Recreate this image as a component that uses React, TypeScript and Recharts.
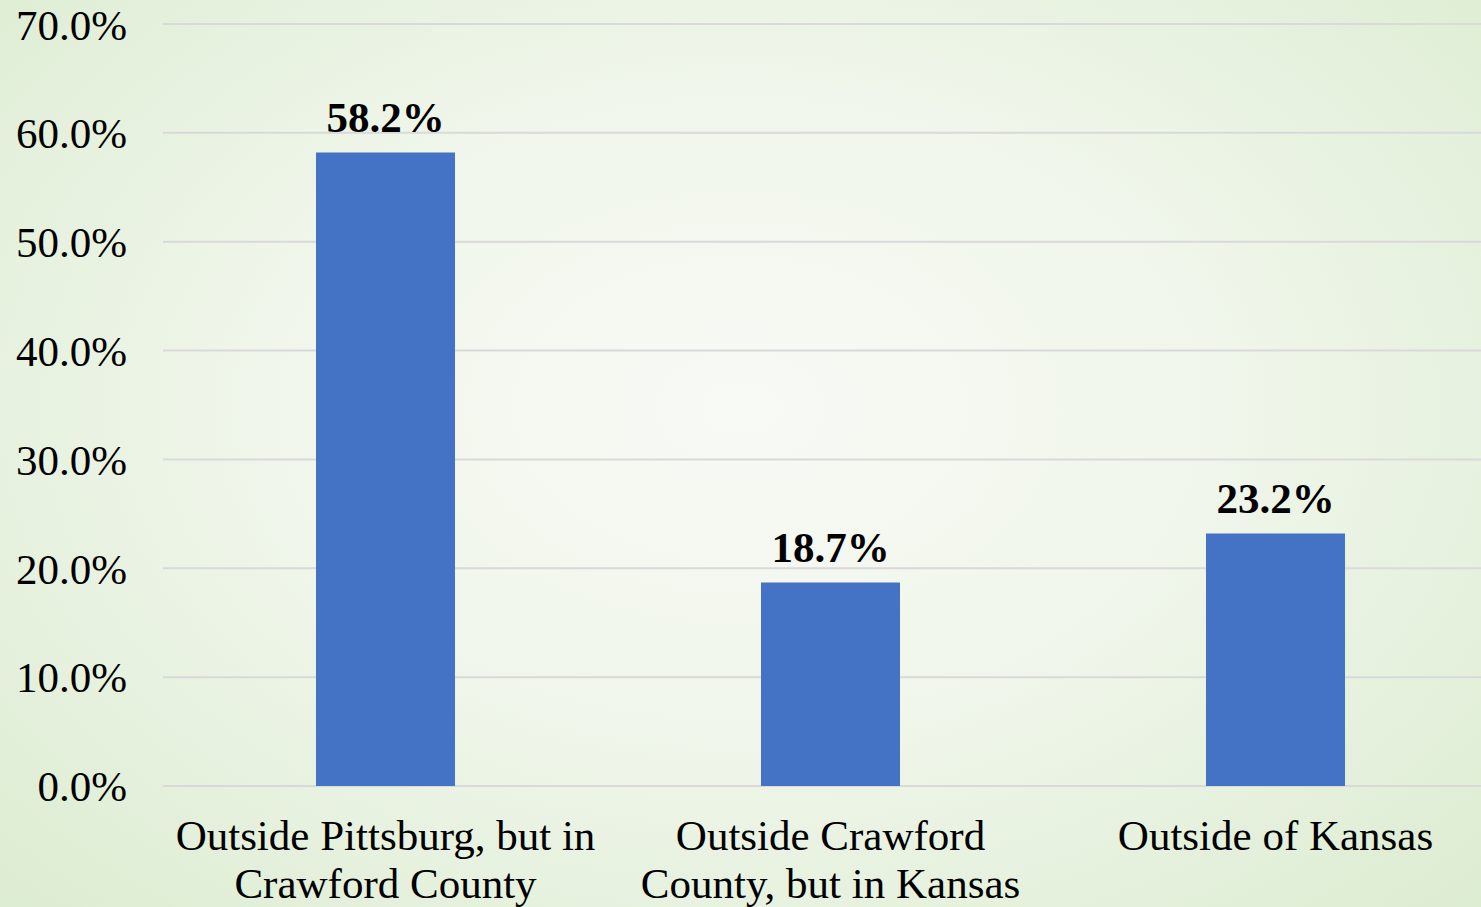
import React from 'react';
import { BarChart, Bar, XAxis, YAxis, CartesianGrid, LabelList } from 'recharts';

const categories: string[] = [
  'Outside Pittsburg, but in\nCrawford County',
  'Outside Crawford\nCounty, but in Kansas',
  'Outside of Kansas',
];
const shares: number[] = [0.582, 0.187, 0.232];
const yTicks: number[] = [0, 0.1, 0.2, 0.3, 0.4, 0.5, 0.6, 0.7];

const data = categories.map((name, i) => ({ name, value: shares[i] }));

const FONT = '"Liberation Serif", "Times New Roman", serif';
const pct = (v: number) => (v * 100).toFixed(1) + '%';

const CategoryTick = (props: any) => {
  const { x, y, payload } = props;
  const lines = String(payload.value).split('\n');
  return (
    <text x={x} y={y} textAnchor="middle" fontFamily={FONT} fontSize={43} fill="#000">
      {lines.map((line, i) => (
        <tspan key={i} x={x} y={y + 64 + i * 48}>{line}</tspan>
      ))}
    </text>
  );
};

export default function App() {
  return (
    <div
      style={{
        position: 'absolute',
        left: 0,
        top: 0,
        width: 1481,
        height: 907,
        overflow: 'hidden',
        background: 'radial-gradient(ellipse at 50% 45%, #f8faf5 0%, #f0f6eb 45%, #dcecd1 100%)',
      }}
    >
      <BarChart
        width={1498}
        height={907}
        data={data}
        margin={{ top: 24, right: 0, left: 0, bottom: 0 }}
        barSize={139}
      >
        <CartesianGrid vertical={false} stroke="#d9d9d9" strokeWidth={2} />
        <XAxis
          dataKey="name"
          axisLine={false}
          tickLine={false}
          tickSize={0}
          tickMargin={0}
          height={121}
          interval={0}
          tick={<CategoryTick />}
        />
        <YAxis
          width={163}
          domain={[0, 0.7]}
          ticks={yTicks}
          tickFormatter={pct}
          axisLine={false}
          tickLine={false}
          tickSize={0}
          tickMargin={36}
          tick={{ fill: '#000', fontSize: 43, fontFamily: FONT }}
        />
        <Bar dataKey="value" fill="#4472c4" isAnimationActive={false}>
          <LabelList
            dataKey="value"
            position="top"
            offset={20}
            formatter={(v: any) => pct(Number(v))}
            fill="#000"
            fontSize={43}
            fontWeight="bold"
            fontFamily={FONT}
          />
        </Bar>
      </BarChart>
    </div>
  );
}
